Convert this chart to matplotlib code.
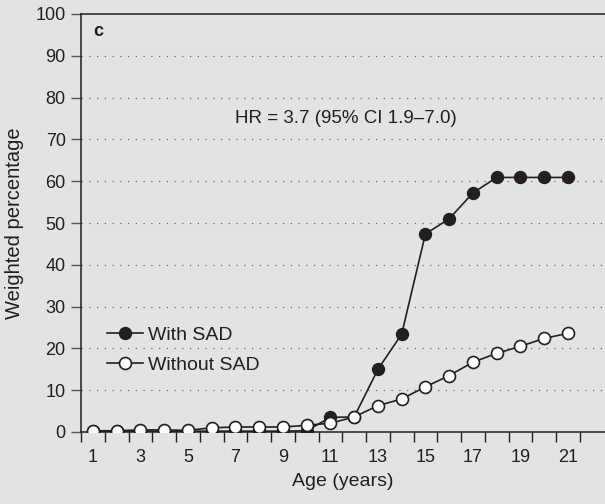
import matplotlib
matplotlib.use("Agg")
import matplotlib.pyplot as plt

ages = list(range(1, 22))
with_sad = [0.2, 0.2, 0.2, 0.2, 0.2, 0.2, 0.2, 0.2, 0.2, 0.3, 3.5,
            3.6, 15.0, 23.4, 47.4, 51.0, 57.2, 60.9, 60.9, 60.9, 60.9]
without_sad = [0.3, 0.3, 0.5, 0.5, 0.4, 1.0, 1.2, 1.2, 1.2, 1.6, 2.1,
               3.6, 6.3, 7.9, 10.8, 13.5, 16.7, 18.8, 20.5, 22.4, 23.6]
x_tick_labels = ["1", "3", "5", "7", "9", "11", "13", "15", "17", "19", "21"]
y_ticks = [0, 10, 20, 30, 40, 50, 60, 70, 80, 90, 100]

BG = "#e2e3e5"
DARK = "#231f20"
FONT = ["Liberation Sans", "DejaVu Sans"]
FS_TICK = 13
FS_TEXT = 13.5
FS_LEG = 14
FS_LABEL = 14

plt.rcParams["font.family"] = FONT

fig = plt.figure(figsize=(6.05, 5.04), dpi=100, facecolor=BG)
ax = fig.add_axes([81 / 605, 72 / 504, 524 / 605, 418 / 504], facecolor=BG)

# dotted gridlines at 10..90
for yv in y_ticks[1:-1]:
    ax.axhline(yv, color="#666666", lw=0.9, ls=(0, (1, 5.2)), zorder=1)

ax.plot(ages, with_sad, color=DARK, lw=1.2, marker="o", ms=8.6,
        mfc=DARK, mec=DARK, mew=1.0, label="With SAD", zorder=3)
ax.plot(ages, without_sad, color=DARK, lw=1.2, marker="o", ms=8.6,
        mfc="white", mec=DARK, mew=1.2, label="Without SAD", zorder=4)

ax.set_xlim(0.5, 22.56)
ax.set_ylim(0, 100)

# ticks sit between ages, labels on odd ages
ax.set_xticks([i + 0.5 for i in range(0, 22)])
ax.set_xticklabels([])
ax.set_xticks(list(range(1, 22, 2)), minor=True)
ax.set_xticklabels(x_tick_labels, minor=True)
ax.tick_params(axis="x", which="major", direction="out", length=7,
               width=1, color=DARK)
ax.tick_params(axis="x", which="minor", length=0, pad=12,
               labelsize=FS_TICK, labelcolor=DARK)

ax.set_yticks(y_ticks)
ax.tick_params(axis="y", direction="out", length=7, width=1, color="#555555",
               labelsize=FS_TICK, labelcolor=DARK, pad=4)

for s in ["left", "bottom", "top"]:
    ax.spines[s].set_color(DARK)
    ax.spines[s].set_linewidth(1.1)
ax.spines["right"].set_visible(False)

ax.set_xlabel("Age (years)", fontsize=FS_LABEL, color=DARK, labelpad=5)
ax.set_ylabel("Weighted percentage", fontsize=FS_LABEL + 0.5, color=DARK,
              labelpad=8)

ax.text(0.024, 0.957, "c", transform=ax.transAxes, fontsize=FS_TICK,
        fontweight="bold", color=DARK, va="center", ha="left")
ax.text(7.0, 75, "HR = 3.7 (95% CI 1.9\u20137.0)", fontsize=FS_TEXT,
        color=DARK, ha="left", va="center")

ax.legend(loc="upper left", bbox_to_anchor=(0.034, 0.272), frameon=False,
          fontsize=FS_LEG, handlelength=1.85, handletextpad=0.26,
          labelspacing=0.65, borderaxespad=0, labelcolor=DARK)

fig.savefig("out.png", dpi=100, facecolor=BG)
